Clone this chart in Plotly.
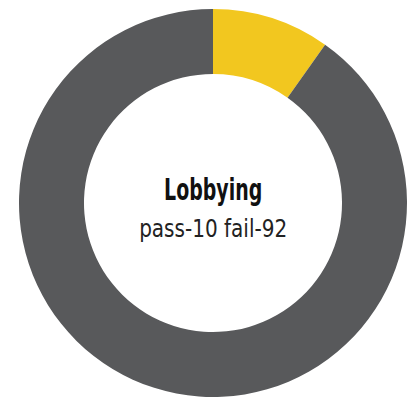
import plotly.graph_objects as go

# Lobbying results
labels = ["pass", "fail"]
values = [10, 92]
colors = ["#F2C71F", "#58595B"]
title_text = "Lobbying"
sub_text = "pass-10 fail-92"

font_family = "DejaVu Sans Condensed, Liberation Sans Narrow, sans-serif"

fig = go.Figure(
    go.Pie(
        labels=labels,
        values=values,
        hole=0.665,
        sort=False,
        direction="clockwise",
        rotation=0,
        marker=dict(colors=colors, line=dict(width=0)),
        textinfo="none",
        hoverinfo="label+value",
        showlegend=False,
    )
)

fig.add_annotation(
    text="<b>" + title_text + "</b>", x=0.5, y=0.5, xref="paper", yref="paper",
    yshift=14, showarrow=False, font=dict(family=font_family, size=31, color="#111111"),
)
fig.add_annotation(
    text=sub_text, x=0.5, y=0.5, xref="paper", yref="paper",
    yshift=-25, showarrow=False, font=dict(family=font_family, size=25, color="#222222"),
)

fig.update_layout(
    width=414,
    height=398,
    margin=dict(l=12, r=0, t=9, b=1),
    paper_bgcolor="white",
    plot_bgcolor="white",
)

# Narrow the centre labels horizontally to a tighter, condensed look
squeeze_js = """
var gd = document.getElementById('{plot_id}');
var ks = [0.68, 0.89];
gd.querySelectorAll('.annotation-text').forEach(function (t, i) {
    var w = t.getComputedTextLength();
    t.setAttribute('textLength', w * ks[i]);
    t.setAttribute('lengthAdjust', 'spacingAndGlyphs');
});
"""

fig.write_html("out.html", post_script=squeeze_js)
